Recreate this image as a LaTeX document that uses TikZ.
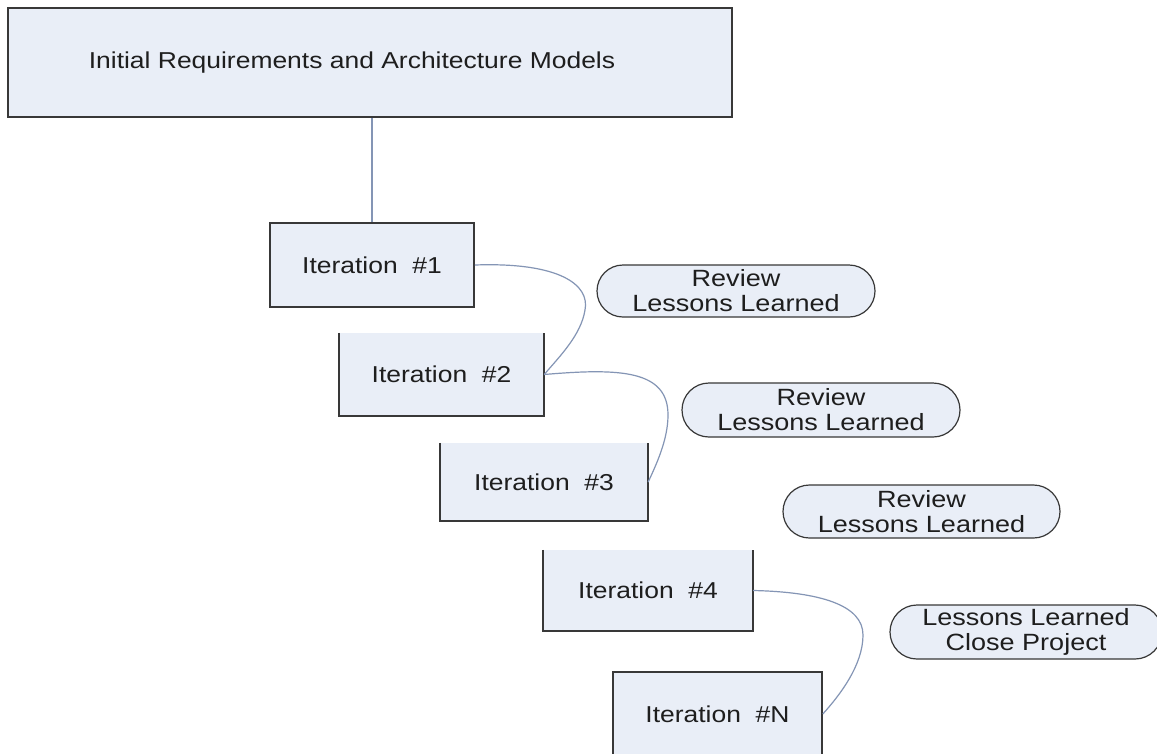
\documentclass[tikz,border=0pt]{standalone}
\usepackage{fontspec}
\setmainfont{Liberation Sans}[FakeStretch=1.15]
\usetikzlibrary{shapes.misc}

\definecolor{boxfill}{HTML}{E9EEF7}
\definecolor{edge}{HTML}{383838}
\definecolor{link}{HTML}{8495B5}
\definecolor{ink}{HTML}{1E1E1E}

\tikzset{
  boxtext/.style={font=\fontsize{23}{26}\selectfont, text=ink},
  notetext/.style={font=\fontsize{23.5}{25}\selectfont, text=ink, align=center},
  plainbox/.style={boxtext, fill=boxfill, inner sep=0pt, rectangle},
  framedbox/.style={plainbox, draw=edge, line width=1.6pt},
  openedge/.style={draw=edge, line width=1.6pt},
  note/.style={notetext, rounded rectangle, fill=boxfill, draw=edge,
               line width=1.2pt, inner sep=0pt},
  flow/.style={draw=link, line width=1.2pt},
}

\begin{document}
\begin{tikzpicture}[x=1pt, y=-1pt]
  \useasboundingbox (0,0) rectangle (1157,753);
  \fill[white] (0,0) rectangle (1157,753);

  % starting models
  \node[framedbox, line width=2pt, minimum width=724pt, minimum height=109pt]
    (init) at (370,62.5) {Initial Requirements and Architecture Models\hspace*{36pt}};

  % iterations
  \node[framedbox, minimum width=204pt, minimum height=84pt] (it1) at (372,265) {Iteration~~\#1};
  \node[plainbox, minimum width=205pt, minimum height=83pt] (it2) at (441.5,374.5) {Iteration~~\#2};
  \node[plainbox, minimum width=208pt, minimum height=78pt] (it3) at (544,482) {Iteration~~\#3};
  \node[plainbox, minimum width=210pt, minimum height=81pt] (it4) at (648,590.5) {Iteration~~\#4};
  \node[framedbox, minimum width=209pt, minimum height=84pt] (itN) at (717.5,714) {Iteration~~\#N};

  \draw[openedge] (it2.north west) -- (it2.south west) -- (it2.south east) -- (it2.north east);
  \draw[openedge] (it3.north west) -- (it3.south west) -- (it3.south east) -- (it3.north east);
  \draw[openedge] (it4.north west) -- (it4.south west) -- (it4.south east) -- (it4.north east);

  % review notes
  \node[note, minimum width=278pt, minimum height=52pt] (r1) at (736,291) {Review\\Lessons Learned};
  \node[note, minimum width=278pt, minimum height=54pt] (r2) at (821,410) {Review\\Lessons Learned};
  \node[note, minimum width=277pt, minimum height=53pt] (r3) at (921.5,511.5) {Review\\Lessons Learned};
  \node[note, minimum width=272pt, minimum height=54pt] (r4) at (1026,632) {Lessons Learned\\Close Project};

  % connectors
  \draw[flow] (init.south -| it1.north) -- (it1.north);
  \draw[flow] (it1.east) .. controls (560,262) and (590,285) .. (585,310)
                         .. controls (581,335) and (560,356) .. (it2.east);
  \draw[flow] (it2.east) .. controls (620,368) and (668,370) .. (668,415)
                         .. controls (668,440) and (656,465) .. (it3.east);
  \draw[flow] (it4.east) .. controls (820,592) and (863,605) .. (863,635)
                         .. controls (863,665) and (840,695) .. (itN.east);
\end{tikzpicture}
\end{document}
